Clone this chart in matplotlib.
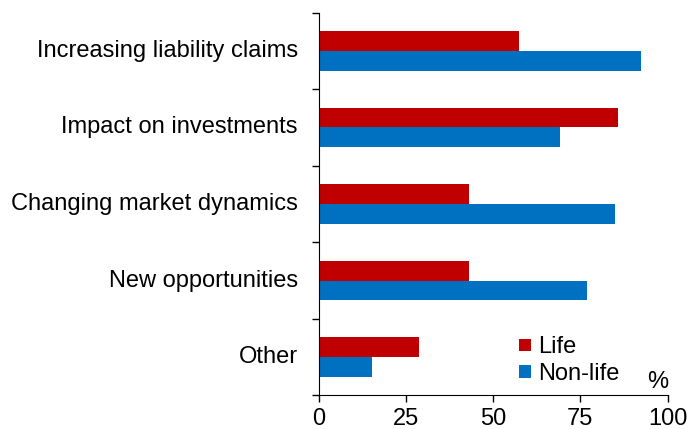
import matplotlib.pyplot as plt
import numpy as np

plt.rcParams['font.family'] = ['Liberation Sans', 'DejaVu Sans']

categories = ["Increasing liability claims", "Impact on investments",
              "Changing market dynamics", "New opportunities", "Other"]
life = [57.3, 85.9, 43.0, 43.0, 28.6]
non_life = [92.5, 69.2, 84.8, 77.0, 15.3]

red = "#C00000"
blue = "#0070C0"
fs = 17

fig = plt.figure(figsize=(6.89, 4.29), dpi=100)
ax = fig.add_axes([0.4626, 0.0785, 0.5064, 0.8919])

y = np.arange(len(categories))[::-1] + 0.5
h = 0.26
ax.barh(y + h / 2, life, height=h, color=red, label="Life")
ax.barh(y - h / 2, non_life, height=h, color=blue, label="Non-life")

ax.set_xlim(0, 100)
ax.set_ylim(0, len(categories))
ax.set_xticks([0, 25, 50, 75, 100])
ax.set_yticks(np.arange(len(categories) + 1))
ax.set_yticklabels([])
for yi, c in zip(y, categories):
    ax.text(-0.06, yi, c, transform=ax.get_yaxis_transform(), ha="right",
            va="center", fontsize=fs)

for s in ["top", "right"]:
    ax.spines[s].set_visible(False)
ax.tick_params(axis="both", direction="out", length=5, width=1, labelsize=fs)
ax.tick_params(axis="x", pad=4)

fig.legend(loc="center left", bbox_to_anchor=(0.753, 0.159), frameon=False,
           fontsize=fs, handlelength=0.5, handleheight=0.45, handletextpad=0.3,
           labelspacing=0.2, borderpad=0, borderaxespad=0)
fig.text(0.9695, 0.0956, "%", ha="right", va="baseline", fontsize=fs)

fig.savefig("out.png", dpi=100)
